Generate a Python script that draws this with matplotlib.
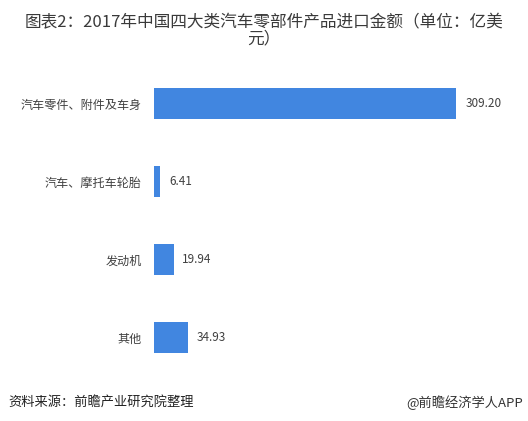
import matplotlib.pyplot as plt
import numpy as np

plt.rcParams['font.family'] = ['Noto Sans CJK SC', 'DejaVu Sans']

# data
categories = ['汽车零件、附件及车身', '汽车、摩托车轮胎', '发动机', '其他']
values = [309.20, 6.41, 19.94, 34.93]
value_labels = ['309.20', '6.41', '19.94', '34.93']

title = '图表2：2017年中国四大类汽车零部件产品进口金额（单位：亿美\n元）'
source_text = '资料来源：前瞻产业研究院整理'
brand_text = '@前瞻经济学人APP'

bar_color = '#4186E0'
text_color = '#404040'

fig = plt.figure(figsize=(5.28, 4.21), dpi=100)
ax = fig.add_axes([0.2917, 0.1057, 0.667, 0.741])

y_pos = np.arange(len(categories))
ax.barh(y_pos, values, height=0.4, color=bar_color)

ax.set_xlim(0, 360)
ax.set_ylim(3.5, -0.5)
ax.set_yticks(y_pos)
ax.set_yticklabels(categories, fontsize=8.7, color=text_color)
ax.tick_params(axis='y', length=0, pad=9)
ax.set_xticks([])
for side in ['top', 'right', 'bottom', 'left']:
    ax.spines[side].set_visible(False)

# value labels
for y, v, lab in zip(y_pos, values, value_labels):
    ax.text(v + 9, y, lab, va='center', ha='left', fontsize=8.5, color=text_color)

fig.text(0.5, 0.967, title, ha='center', va='top', fontsize=12,
         color='#3a3a3a', linespacing=1.0)

fig.text(0.015, 0.044, source_text, ha='left', va='center', fontsize=9.5,
         color='#222222', style='italic')
fig.text(0.99, 0.044, brand_text, ha='right', va='center', fontsize=9.5,
         color='#333333')

fig.savefig('out.png', dpi=100)
